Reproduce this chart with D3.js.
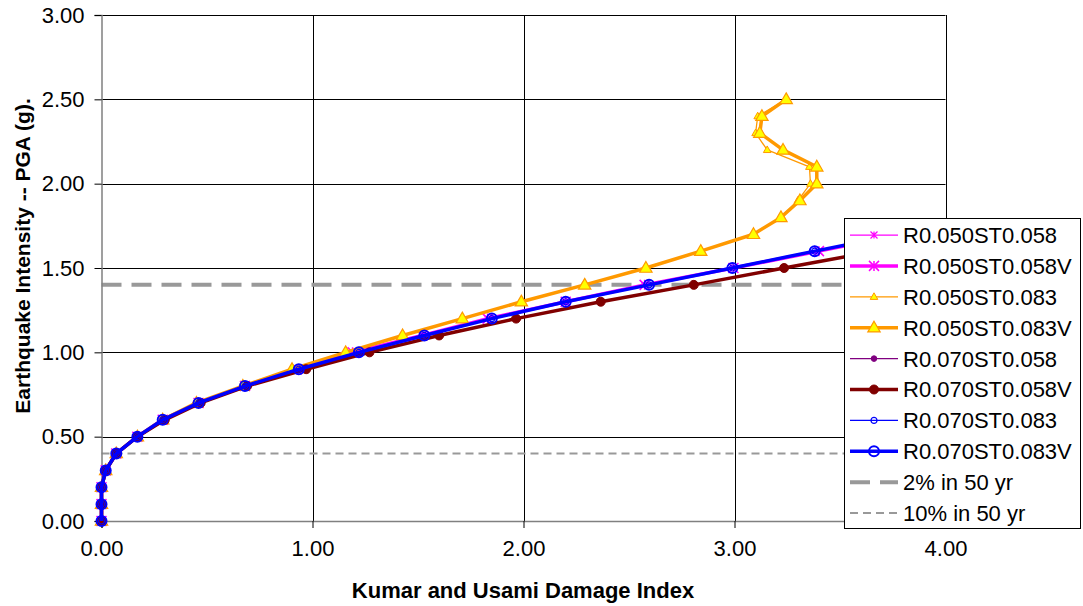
<!DOCTYPE html>
<html>
<head>
<meta charset="utf-8">
<script src="https://cdn.jsdelivr.net/npm/d3@7"></script>
<style>
  body { margin: 0; background: #fff; }
  text { font-family: Arial, "Liberation Sans", sans-serif; fill: #000; }
</style>
</head>
<body>
<div id="chart"></div>
<script>
// PGA levels (y) shared by every series
var pga = [0.0, 0.1, 0.2, 0.3, 0.4, 0.5, 0.6, 0.7, 0.8, 0.9, 1.0, 1.1, 1.2,
           1.3, 1.4, 1.5, 1.6, 1.7, 1.8, 1.9, 2.0, 2.1, 2.2, 2.3, 2.4, 2.5];

// damage index (x) per series
var r050st058  = [0, 0, 0, 0.02, 0.07, 0.17, 0.29, 0.46, 0.68, 0.927, 1.19, 1.52, 1.83, 2.20, 2.574, 2.995, 3.40, 3.80];
var r050st058v = [0, 0, 0, 0.02, 0.07, 0.17, 0.29, 0.46, 0.68, 0.927, 1.19, 1.52, 1.83, 2.20, 2.574, 2.995, 3.40, 3.80];
var r050st083  = [0, 0, 0, 0.02, 0.07, 0.17, 0.29, 0.45, 0.67, 0.903, 1.157, 1.427, 1.71, 1.99, 2.29, 2.58, 2.84, 3.09, 3.22, 3.30, 3.36, 3.355, 3.155, 3.10, 3.11, 3.245];
var r050st083v = [0, 0, 0, 0.02, 0.07, 0.17, 0.29, 0.45, 0.67, 0.903, 1.157, 1.427, 1.71, 1.99, 2.29, 2.58, 2.84, 3.09, 3.22, 3.31, 3.39, 3.39, 3.23, 3.12, 3.13, 3.245];
var r070st058  = [0, 0, 0, 0.02, 0.07, 0.17, 0.30, 0.47, 0.69, 0.97, 1.27, 1.60, 1.965, 2.366, 2.807, 3.235, 3.67];
var r070st058v = [0, 0, 0, 0.02, 0.07, 0.17, 0.30, 0.47, 0.69, 0.97, 1.27, 1.60, 1.965, 2.366, 2.807, 3.235, 3.67];
var r070st083  = [0, 0, 0, 0.02, 0.07, 0.17, 0.29, 0.46, 0.68, 0.935, 1.22, 1.53, 1.85, 2.20, 2.595, 2.99, 3.38, 3.78];
var r070st083v = [0, 0, 0, 0.02, 0.07, 0.17, 0.29, 0.46, 0.68, 0.935, 1.22, 1.53, 1.85, 2.20, 2.595, 2.99, 3.38, 3.78];

var hazardNames = ["2% in 50 yr", "10% in 50 yr"];
var hazardPga = [1.4, 0.4];

var xTicks = [0, 1, 2, 3, 4];
var yTicks = [0, 0.5, 1, 1.5, 2, 2.5, 3];

var svg = d3.select("#chart")
            .append("svg")
            .attr("width", 1083)
            .attr("height", 606);

var x = d3.scaleLinear()
          .domain([0, 4])
          .range([101.5, 945.5]);

var y = d3.scaleLinear()
          .domain([0, 3])
          .range([521, 15]);

// grid lines
svg.append("g")
  .selectAll("line")
  .data(yTicks.slice(1))
  .enter().append("line")
    .attr("x1", x(0)).attr("x2", x(4))
    .attr("y1", function(d) { return Math.round(y(d)) + 0.5; })
    .attr("y2", function(d) { return Math.round(y(d)) + 0.5; })
    .attr("stroke", "#000")
    .attr("stroke-width", 1);

svg.append("g")
  .selectAll("line")
  .data(xTicks.slice(1))
  .enter().append("line")
    .attr("x1", function(d) { return Math.round(x(d)) + 0.5; })
    .attr("x2", function(d) { return Math.round(x(d)) + 0.5; })
    .attr("y1", y(3)).attr("y2", y(0))
    .attr("stroke", "#000")
    .attr("stroke-width", 1);

// hazard lines
var hazardStyle = [{w: 4, dash: "20,10"}, {w: 2, dash: "8,5"}];

svg.append("g")
  .selectAll("line")
  .data(hazardPga)
  .enter().append("line")
    .attr("x1", x(0)).attr("x2", x(4))
    .attr("y1", function(d) { return y(d); })
    .attr("y2", function(d) { return y(d); })
    .attr("stroke", "#999")
    .attr("stroke-width", function(d, i) { return hazardStyle[i].w; })
    .style("stroke-dasharray", function(d, i) { return hazardStyle[i].dash; });

// axes
var yAxis = svg.append("g")
   .attr("transform", "translate(" + x(0) + ",0)")
   .call(d3.axisLeft(y).tickValues(yTicks).tickFormat(d3.format(".2f")).tickSize(7).tickPadding(10));

var xAxis = svg.append("g")
   .attr("transform", "translate(0," + y(0) + ")")
   .call(d3.axisBottom(x).tickValues(xTicks).tickFormat(d3.format(".2f")).tickSize(7).tickPadding(12));

[yAxis, xAxis].forEach(function(a) {
  a.select(".domain").attr("stroke", "#808080").attr("stroke-width", 1.5);
  a.selectAll(".tick line").attr("stroke", "#000");
  a.selectAll(".tick text")
    .style("font-family", "Arial, 'Liberation Sans', sans-serif")
    .style("font-size", "22px")
    .attr("fill", "#000");
});

// axis titles
svg.append("text")
   .attr("x", 523)
   .attr("y", 598)
   .style("text-anchor", "middle")
   .style("font-size", "22px")
   .style("font-weight", "bold")
   .text("Kumar and Usami Damage Index");

svg.append("text")
   .attr("transform", "translate(30,256) rotate(-90)")
   .style("text-anchor", "middle")
   .style("font-size", "21px")
   .style("font-weight", "bold")
   .text("Earthquake Intensity -- PGA (g).");

// series
function star(r) {
  return "M" + (-r) + "," + (-r) + "L" + r + "," + r +
         "M" + (-r) + "," + r + "L" + r + "," + (-r) +
         "M0," + (-r) + "L0," + r;
}
function triangle(r) {
  return "M0," + (-r) + "L" + (r * 0.95) + "," + (r * 0.65) + "L" + (-r * 0.95) + "," + (r * 0.65) + "Z";
}
function circle(r) {
  return "M" + r + ",0A" + r + "," + r + " 0 1,1 " + (-r) + ",0A" + r + "," + r + " 0 1,1 " + r + ",0Z";
}

var series = [
  {name: "R0.050ST0.058",  xs: r050st058,  color: "#FF00FF", w: 1.25, shape: star(3.5),     fill: "none",    mstroke: "#FF00FF", mw: 1.2},
  {name: "R0.050ST0.058V", xs: r050st058v, color: "#FF00FF", w: 3.5,  shape: star(5),       fill: "none",    mstroke: "#FF00FF", mw: 1.5},
  {name: "R0.050ST0.083",  xs: r050st083,  color: "#FF9900", w: 1.25, shape: triangle(4),   fill: "#FFFF00", mstroke: "#FF9900", mw: 1},
  {name: "R0.050ST0.083V", xs: r050st083v, color: "#FF9900", w: 3.5,  shape: triangle(6.5), fill: "#FFFF00", mstroke: "#FF9900", mw: 1.2},
  {name: "R0.070ST0.058",  xs: r070st058,  color: "#800080", w: 1.25, shape: circle(2.8),   fill: "#800080", mstroke: "#800080", mw: 1},
  {name: "R0.070ST0.058V", xs: r070st058v, color: "#800000", w: 3.5,  shape: circle(4.5),   fill: "#800000", mstroke: "#800000", mw: 1},
  {name: "R0.070ST0.083",  xs: r070st083,  color: "#0000FF", w: 1.25, shape: circle(3),     fill: "none",    mstroke: "#0000FF", mw: 1.2},
  {name: "R0.070ST0.083V", xs: r070st083v, color: "#0000FF", w: 3.5,  shape: circle(5),     fill: "none",    mstroke: "#0000FF", mw: 2}
];

var line = d3.line()
  .x(function(d) { return x(d[0]); })
  .y(function(d) { return y(d[1]); });

series.forEach(function(s) {
  var pts = s.xs.map(function(v, i) { return [v, pga[i]]; });
  var g = svg.append("g");
  g.append("path")
    .datum(pts)
    .attr("d", line)
    .attr("stroke", s.color)
    .style("stroke-width", s.w)
    .style("stroke-linejoin", "round")
    .style("fill", "none");
  g.selectAll("path.m")
    .data(pts)
    .enter().append("path")
      .attr("class", "m")
      .attr("transform", function(d) { return "translate(" + x(d[0]) + "," + y(d[1]) + ")"; })
      .attr("d", s.shape)
      .attr("fill", s.fill)
      .attr("stroke", s.mstroke)
      .style("stroke-width", s.mw);
});

// legend
var legend = svg.append("g");

legend.append("rect")
  .attr("x", 844.5).attr("y", 218.5)
  .attr("width", 236).attr("height", 310)
  .attr("fill", "#fff")
  .attr("stroke", "#000")
  .attr("stroke-width", 1);

var rowY = function(i) { return 235 + i * 30.9; };

series.forEach(function(s, i) {
  legend.append("line")
    .attr("x1", 850).attr("x2", 898)
    .attr("y1", rowY(i)).attr("y2", rowY(i))
    .attr("stroke", s.color)
    .style("stroke-width", s.w);
  legend.append("path")
    .attr("transform", "translate(874," + rowY(i) + ")")
    .attr("d", s.shape)
    .attr("fill", s.fill)
    .attr("stroke", s.mstroke)
    .style("stroke-width", s.mw);
  legend.append("text")
    .attr("x", 903).attr("y", rowY(i))
    .attr("dy", "0.36em")
    .style("font-size", "22px")
    .text(s.name);
});

hazardNames.forEach(function(n, i) {
  var k = series.length + i;
  legend.append("line")
    .attr("x1", 850).attr("x2", 898)
    .attr("y1", rowY(k)).attr("y2", rowY(k))
    .attr("stroke", "#999")
    .style("stroke-width", hazardStyle[i].w)
    .style("stroke-dasharray", hazardStyle[i].dash);
  legend.append("text")
    .attr("x", 903).attr("y", rowY(k))
    .attr("dy", "0.36em")
    .style("font-size", "22px")
    .text(n);
});
</script>
</body>
</html>
